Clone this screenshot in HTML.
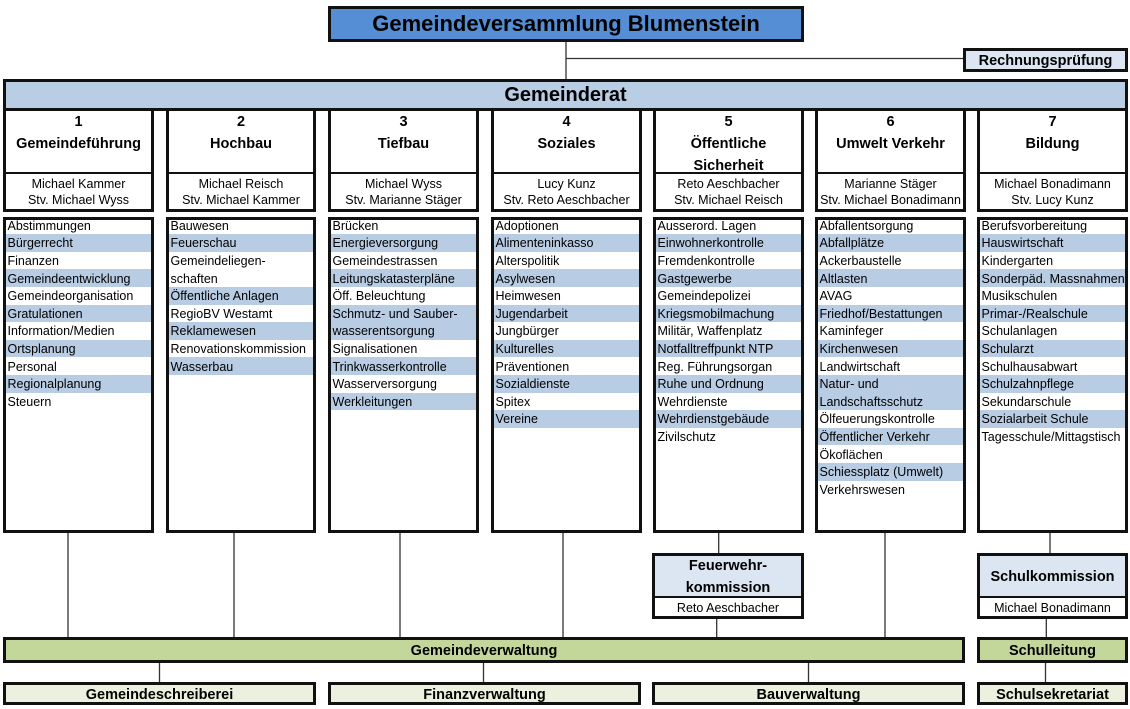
<!DOCTYPE html>
<html><head><meta charset="utf-8"><style>
body{margin:0;width:1130px;height:709px;position:relative;background:#fff;font-family:"Liberation Sans",Arial,sans-serif;overflow:hidden;color:#000}
.a{position:absolute;box-sizing:border-box;border:3px solid #111}
.c{text-align:center;font-weight:bold;font-size:14.5px;white-space:nowrap}
.col .hd{height:62px;line-height:22px;margin-top:-1px;padding-top:1px;box-sizing:border-box;text-align:center;font-weight:bold;font-size:14.5px}
.col .nm{border-top:2px solid #111;height:34px;line-height:16.5px;padding-top:1.5px;box-sizing:border-box;text-align:center;font-size:12.5px;white-space:nowrap}
.lst{overflow:hidden;font-size:12.5px}
.lst .in{position:absolute;top:-3.3px;left:0;right:0}
.lst .in div{height:17.6px;box-sizing:border-box;padding-top:1.2px;line-height:17.6px;padding-left:1.5px;white-space:nowrap}
.lst .in .b{background:#b8cce4}
.kom .hd{height:40px;background:#dce6f2;text-align:center;font-weight:bold;font-size:14.5px;box-sizing:border-box;padding-top:1px}
.kom .nm{border-top:2px solid #111;height:18px;line-height:18px;text-align:center;font-size:12.5px;white-space:nowrap;box-sizing:border-box;padding-top:1px}
</style></head><body>
<svg width="1130" height="709" style="position:absolute;left:0;top:0" xmlns="http://www.w3.org/2000/svg">
<g stroke="#333" stroke-width="1.3" fill="none">
<line x1="566" y1="41" x2="566" y2="80"/>
<line x1="566" y1="58.5" x2="964" y2="58.5"/>
<line x1="68" y1="533" x2="68" y2="638"/>
<line x1="234" y1="533" x2="234" y2="638"/>
<line x1="400" y1="533" x2="400" y2="638"/>
<line x1="563" y1="533" x2="563" y2="638"/>
<line x1="885" y1="533" x2="885" y2="638"/>
<line x1="718.7" y1="533" x2="718.7" y2="554"/>
<line x1="716.7" y1="618" x2="716.7" y2="638"/>
<line x1="1050" y1="533" x2="1050" y2="554"/>
<line x1="1046.3" y1="618" x2="1046.3" y2="638"/>
<line x1="159.5" y1="662" x2="159.5" y2="683"/>
<line x1="483.5" y1="662" x2="483.5" y2="683"/>
<line x1="808.5" y1="662" x2="808.5" y2="683"/>
<line x1="1045.5" y1="662" x2="1045.5" y2="683"/>
</g></svg>

<div class="a c" style="left:328px;top:6px;width:476px;height:36px;background:#558ed5;font-size:22px;line-height:29px">Gemeindeversammlung Blumenstein</div>
<div class="a c" style="left:963px;top:48px;width:165px;height:24px;background:#dce6f2;line-height:18px;padding-top:1px">Rechnungsprüfung</div>
<div class="a c" style="left:3px;top:79px;width:1125px;height:32px;background:#b9cde5;font-size:20px;line-height:26px">Gemeinderat</div>

<!-- column headers -->
<div class="a col" style="left:3px;top:108px;width:151px;height:104px;background:#fff"><div class="hd">1<br>Gemeindeführung</div><div class="nm">Michael Kammer<br>Stv. Michael Wyss</div></div>
<div class="a col" style="left:166px;top:108px;width:150px;height:104px;background:#fff"><div class="hd">2<br>Hochbau</div><div class="nm">Michael Reisch<br>Stv. Michael Kammer</div></div>
<div class="a col" style="left:328px;top:108px;width:151px;height:104px;background:#fff"><div class="hd">3<br>Tiefbau</div><div class="nm">Michael Wyss<br>Stv. Marianne Stäger</div></div>
<div class="a col" style="left:491px;top:108px;width:151px;height:104px;background:#fff"><div class="hd">4<br>Soziales</div><div class="nm">Lucy Kunz<br>Stv. Reto Aeschbacher</div></div>
<div class="a col" style="left:653px;top:108px;width:151px;height:104px;background:#fff"><div class="hd">5<br>Öffentliche<br>Sicherheit</div><div class="nm">Reto Aeschbacher<br>Stv. Michael Reisch</div></div>
<div class="a col" style="left:815px;top:108px;width:151px;height:104px;background:#fff"><div class="hd">6<br>Umwelt Verkehr</div><div class="nm">Marianne Stäger<br>Stv. Michael Bonadimann</div></div>
<div class="a col" style="left:977px;top:108px;width:151px;height:104px;background:#fff"><div class="hd">7<br>Bildung</div><div class="nm">Michael Bonadimann<br>Stv. Lucy Kunz</div></div>

<!-- lists -->
<div class="a lst" style="left:3px;top:217px;width:151px;height:316px;background:#fff"><div class="in">
<div>Abstimmungen</div><div class="b">Bürgerrecht</div><div>Finanzen</div><div class="b">Gemeindeentwicklung</div><div>Gemeindeorganisation</div><div class="b">Gratulationen</div><div>Information/Medien</div><div class="b">Ortsplanung</div><div>Personal</div><div class="b">Regionalplanung</div><div>Steuern</div>
</div></div>
<div class="a lst" style="left:166px;top:217px;width:150px;height:316px;background:#fff"><div class="in">
<div>Bauwesen</div><div class="b">Feuerschau</div><div>Gemeindeliegen-</div><div>schaften</div><div class="b">Öffentliche Anlagen</div><div>RegioBV Westamt</div><div class="b">Reklamewesen</div><div>Renovationskommission</div><div class="b">Wasserbau</div>
</div></div>
<div class="a lst" style="left:328px;top:217px;width:151px;height:316px;background:#fff"><div class="in">
<div>Brücken</div><div class="b">Energieversorgung</div><div>Gemeindestrassen</div><div class="b">Leitungskatasterpläne</div><div>Öff. Beleuchtung</div><div class="b">Schmutz- und Sauber-</div><div class="b">wasserentsorgung</div><div>Signalisationen</div><div class="b">Trinkwasserkontrolle</div><div>Wasserversorgung</div><div class="b">Werkleitungen</div>
</div></div>
<div class="a lst" style="left:491px;top:217px;width:151px;height:316px;background:#fff"><div class="in">
<div>Adoptionen</div><div class="b">Alimenteninkasso</div><div>Alterspolitik</div><div class="b">Asylwesen</div><div>Heimwesen</div><div class="b">Jugendarbeit</div><div>Jungbürger</div><div class="b">Kulturelles</div><div>Präventionen</div><div class="b">Sozialdienste</div><div>Spitex</div><div class="b">Vereine</div>
</div></div>
<div class="a lst" style="left:653px;top:217px;width:151px;height:316px;background:#fff"><div class="in">
<div>Ausserord. Lagen</div><div class="b">Einwohnerkontrolle</div><div>Fremdenkontrolle</div><div class="b">Gastgewerbe</div><div>Gemeindepolizei</div><div class="b">Kriegsmobilmachung</div><div>Militär, Waffenplatz</div><div class="b">Notfalltreffpunkt NTP</div><div>Reg. Führungsorgan</div><div class="b">Ruhe und Ordnung</div><div>Wehrdienste</div><div class="b">Wehrdienstgebäude</div><div>Zivilschutz</div>
</div></div>
<div class="a lst" style="left:815px;top:217px;width:151px;height:316px;background:#fff"><div class="in">
<div>Abfallentsorgung</div><div class="b">Abfallplätze</div><div>Ackerbaustelle</div><div class="b">Altlasten</div><div>AVAG</div><div class="b">Friedhof/Bestattungen</div><div>Kaminfeger</div><div class="b">Kirchenwesen</div><div>Landwirtschaft</div><div class="b">Natur- und</div><div class="b">Landschaftsschutz</div><div>Ölfeuerungskontrolle</div><div class="b">Öffentlicher Verkehr</div><div>Ökoflächen</div><div class="b">Schiessplatz (Umwelt)</div><div>Verkehrswesen</div>
</div></div>
<div class="a lst" style="left:977px;top:217px;width:151px;height:316px;background:#fff"><div class="in">
<div>Berufsvorbereitung</div><div class="b">Hauswirtschaft</div><div>Kindergarten</div><div class="b">Sonderpäd. Massnahmen</div><div>Musikschulen</div><div class="b">Primar-/Realschule</div><div>Schulanlagen</div><div class="b">Schularzt</div><div>Schulhausabwart</div><div class="b">Schulzahnpflege</div><div>Sekundarschule</div><div class="b">Sozialarbeit Schule</div><div>Tagesschule/Mittagstisch</div>
</div></div>

<!-- commissions -->
<div class="a kom" style="left:652px;top:553px;width:152px;height:66px;background:#fff"><div class="hd" style="line-height:21.6px;padding-top:0">Feuerwehr-<br>kommission</div><div class="nm">Reto Aeschbacher</div></div>
<div class="a kom" style="left:977px;top:553px;width:151px;height:66px;background:#fff"><div class="hd" style="line-height:40px">Schulkommission</div><div class="nm">Michael Bonadimann</div></div>

<!-- administration -->
<div class="a c" style="left:3px;top:637px;width:962px;height:26px;background:#c4d79b;line-height:20px;padding-top:1px">Gemeindeverwaltung</div>
<div class="a c" style="left:977px;top:637px;width:151px;height:26px;background:#c4d79b;line-height:20px;padding-top:1px">Schulleitung</div>

<div class="a c" style="left:3px;top:682px;width:313px;height:23px;background:#ebf1de;line-height:16px;padding-top:1.5px">Gemeindeschreiberei</div>
<div class="a c" style="left:328px;top:682px;width:313px;height:23px;background:#ebf1de;line-height:16px;padding-top:1.5px">Finanzverwaltung</div>
<div class="a c" style="left:652px;top:682px;width:313px;height:23px;background:#ebf1de;line-height:16px;padding-top:1.5px">Bauverwaltung</div>
<div class="a c" style="left:977px;top:682px;width:151px;height:23px;background:#ebf1de;line-height:16px;padding-top:1.5px">Schulsekretariat</div>
</body></html>
